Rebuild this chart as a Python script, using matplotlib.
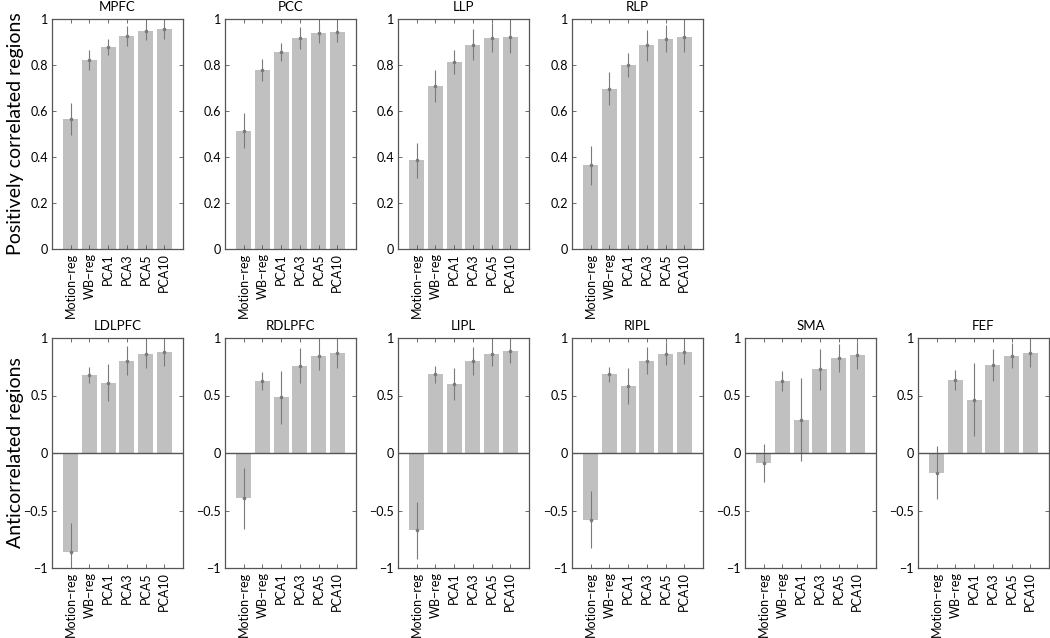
import numpy as np
import matplotlib
matplotlib.use("Agg")
from matplotlib import pyplot as plt

methods = ["Motion\u2212reg", "WB\u2212reg", "PCA1", "PCA3", "PCA5", "PCA10"]

# positively correlated regions
pos_names = ["MPFC", "PCC", "LLP", "RLP"]
mpfc = [0.565, 0.821, 0.878, 0.927, 0.948, 0.955]
mpfc_err = [0.070, 0.043, 0.034, 0.044, 0.039, 0.040]
pcc = [0.515, 0.777, 0.857, 0.918, 0.940, 0.945]
pcc_err = [0.075, 0.048, 0.039, 0.047, 0.045, 0.045]
llp = [0.385, 0.708, 0.814, 0.889, 0.919, 0.920]
llp_err = [0.076, 0.069, 0.051, 0.067, 0.063, 0.070]
rlp = [0.365, 0.697, 0.800, 0.885, 0.915, 0.923]
rlp_err = [0.085, 0.072, 0.051, 0.066, 0.060, 0.068]

# anticorrelated regions
neg_names = ["LDLPFC", "RDLPFC", "LIPL", "RIPL", "SMA", "FEF"]
ldlpfc = [-0.862, 0.678, 0.611, 0.804, 0.860, 0.877]
ldlpfc_err = [0.256, 0.073, 0.160, 0.124, 0.117, 0.120]
rdlpfc = [-0.395, 0.626, 0.485, 0.760, 0.845, 0.868]
rdlpfc_err = [0.265, 0.081, 0.230, 0.150, 0.125, 0.132]
lipl = [-0.672, 0.684, 0.596, 0.804, 0.865, 0.889]
lipl_err = [0.248, 0.075, 0.139, 0.122, 0.106, 0.105]
ripl = [-0.579, 0.684, 0.585, 0.801, 0.865, 0.877]
ripl_err = [0.250, 0.066, 0.158, 0.117, 0.100, 0.107]
sma = [-0.088, 0.629, 0.289, 0.728, 0.825, 0.848]
sma_err = [0.166, 0.088, 0.361, 0.176, 0.123, 0.117]
fef = [-0.170, 0.635, 0.465, 0.766, 0.845, 0.868]
fef_err = [0.234, 0.088, 0.320, 0.139, 0.110, 0.117]

pos_vals = [mpfc, pcc, llp, rlp]
pos_errs = [mpfc_err, pcc_err, llp_err, rlp_err]
neg_vals = [ldlpfc, rdlpfc, lipl, ripl, sma, fef]
neg_errs = [ldlpfc_err, rdlpfc_err, lipl_err, ripl_err, sma_err, fef_err]

plt.rcParams["font.family"] = ["Lato", "DejaVu Sans"]

W, H = 1050, 638
fig = plt.figure(figsize=(W / 100, H / 100), dpi=100)

lefts = [52, 225, 398, 572, 745, 918]
ax_w = 131
ax_h = 230
top_row_y = 19
bot_row_y = 338

bar_col = "#c0c0c0"
err_col = "#7a7a7a"
spine_col = "#555555"


def panel(left, top, vals, errs, title, neg):
    ax = fig.add_axes([left / W, 1 - (top + ax_h) / H, ax_w / W, ax_h / H])
    x = np.arange(1, len(vals) + 1)
    ax.bar(x, vals, width=0.8, color=bar_col, edgecolor="none", zorder=1)
    ax.errorbar(x, vals, yerr=errs, fmt="o", ms=1.6, color=err_col,
                ecolor=err_col, elinewidth=0.8, capsize=0, zorder=2)
    ax.set_xlim(0, 7)
    if neg:
        ax.set_ylim(-1, 1)
        ax.set_yticks([-1, -0.5, 0, 0.5, 1])
        ax.set_yticklabels(["\u22121", "\u22120.5", "0", "0.5", "1"])
        ax.axhline(0, color="#555555", lw=1.0, zorder=3)
    else:
        ax.set_ylim(0, 1)
        ax.set_yticks([0, 0.2, 0.4, 0.6, 0.8, 1])
        ax.set_yticklabels(["0", "0.2", "0.4", "0.6", "0.8", "1"])
    ax.set_xticks(x)
    ax.set_xticklabels(methods, rotation=90)
    ax.tick_params(direction="in", length=3, width=0.6, top=True, right=True,
                   labelsize=9, colors=spine_col, labelcolor="black", pad=3)
    for s in ax.spines.values():
        s.set_color(spine_col)
        s.set_linewidth(0.9)
    ax.set_title(title, fontsize=9.5, pad=6)
    return ax


for i, name in enumerate(pos_names):
    panel(lefts[i], top_row_y, pos_vals[i], pos_errs[i], name, False)

for i, name in enumerate(neg_names):
    panel(lefts[i], bot_row_y, neg_vals[i], neg_errs[i], name, True)

fig.text(16 / W, 1 - (top_row_y + ax_h / 2) / H, "Positively correlated regions",
         rotation=90, ha="center", va="center", fontsize=14)
fig.text(16 / W, 1 - (bot_row_y + ax_h / 2) / H, "Anticorrelated regions",
         rotation=90, ha="center", va="center", fontsize=14)

fig.savefig("out.png", dpi=100)
